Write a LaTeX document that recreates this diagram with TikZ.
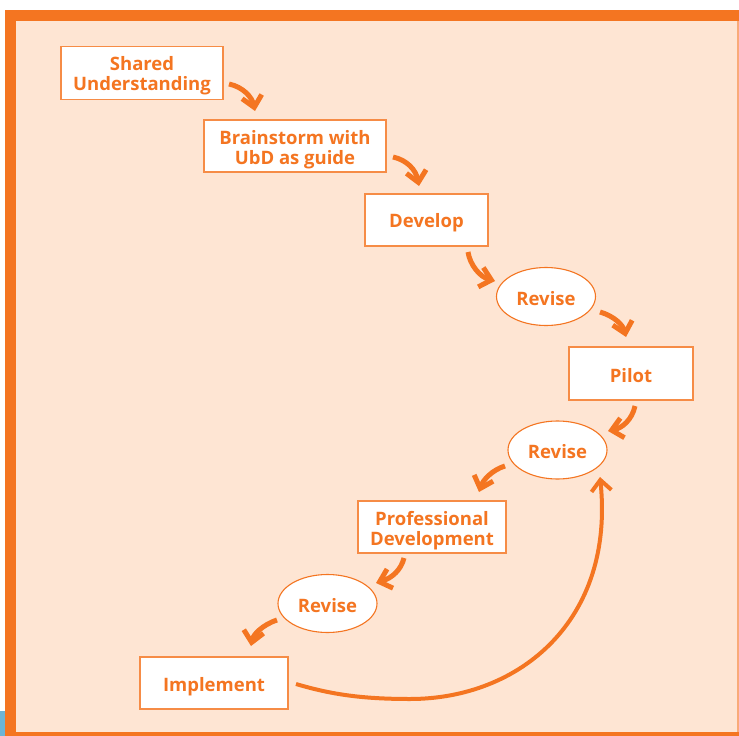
\documentclass[tikz,border=0pt]{standalone}
\usepackage{fontspec}
\setmainfont{Open Sans}
\usetikzlibrary{shapes.geometric,arrows.meta}
\definecolor{org}{RGB}{244,117,33}
\definecolor{bg}{RGB}{254,229,211}
\definecolor{boxline}{RGB}{246,140,70}
\definecolor{lightorg}{RGB}{249,170,120}
\definecolor{blu}{RGB}{108,180,214}
\tikzset{
  lbl/.style={text=org,font=\fontsize{18.5}{20}\selectfont\bfseries,align=center,inner sep=0pt},
  stepbox/.style={draw=boxline,line width=1.3pt,fill=white,rectangle,inner sep=0pt},
  oval/.style={draw=org,line width=1.1pt,fill=white,ellipse,inner sep=0pt,minimum width=99pt,minimum height=58pt},
  arr/.style={draw=org,line width=5pt,-{Straight Barb[length=11pt,width=20pt]}},
  longarr/.style={draw=org,line width=4pt,-{Straight Barb[length=11pt,width=20pt]}}
}
\begin{document}
\begin{tikzpicture}[x=1pt,y=-1pt]
\useasboundingbox (0,0) rectangle (739,736);
\fill[white] (0,0) rectangle (739,736);
\fill[org] (4.7,10) rectangle (739,736);
\fill[bg] (15.6,21) rectangle (739,731.7);
\draw[lightorg,line width=1.5pt] (738.2,21) -- (738.2,731.7);
\fill[blu] (0,710.7) rectangle (4.7,736);

\node[stepbox,minimum width=162pt,minimum height=52.6pt,label={[lbl,yshift=-3pt]center:Shared\\Understanding}] (sh) at (142,73) {};
\node[stepbox,minimum width=182pt,minimum height=52pt,label={[lbl,yshift=-3.5pt]center:Brainstorm with\\UbD as guide}] (br) at (295,146) {};
\node[stepbox,minimum width=123pt,minimum height=52pt,label={[lbl,yshift=-3pt]center:Develop}] (dv) at (426.5,220) {};
\node[oval,label={[lbl,yshift=-2pt]center:Revise}] (r1) at (546,296.5) {};
\node[stepbox,minimum width=124pt,minimum height=53pt,label={[lbl,yshift=-2pt]center:Pilot}] (pi) at (631,373.5) {};
\node[oval,label={[lbl,yshift=-2pt]center:Revise}] (r2) at (557.5,450) {};
\node[stepbox,minimum width=148pt,minimum height=52pt,label={[lbl,yshift=-3.5pt]center:Professional\\Development}] (pd) at (432,527) {};
\node[oval,label={[lbl,yshift=-2pt]center:Revise}] (r3) at (327.5,603.5) {};
\node[stepbox,minimum width=148pt,minimum height=52pt,label={[lbl,yshift=-4pt]center:Implement}] (im) at (214,683) {};

\draw[arr] ([shift={(87,11)}]sh.center) .. controls (243,87) and (252,97) .. ([shift={(-40,-35)}]br.center);
\draw[arr] ([shift={(98,11)}]br.center) .. controls (407,160) and (416,170) .. ([shift={(-7.5,-34)}]dv.center);
\draw[arr] ([shift={(41.5,32)}]dv.center) .. controls (470,265) and (480,277) .. ([shift={(-51,-15.5)}]r1.center);
\draw[arr] ([shift={(54,15.5)}]r1.center) .. controls (614,316) and (623,325) .. ([shift={(-5,-36.5)}]pi.center);
\draw[arr] ([shift={(4,32.5)}]pi.center) .. controls (632,420) and (622,428) .. ([shift={(50.5,-19)}]r2.center);
\draw[arr] ([shift={(-52.5,16)}]r2.center) .. controls (492,470) and (483,480) .. ([shift={(47,-35)}]pd.center);
\draw[arr] ([shift={(-28,31)}]pd.center) .. controls (401,570) and (392,578) .. ([shift={(48.5,-20.5)}]r3.center);
\draw[arr] ([shift={(-50.5,16.5)}]r3.center) .. controls (262,625) and (253,635) .. ([shift={(37,-37)}]im.center);
\draw[longarr] ([shift={(82,1)}]im.center) .. controls (330,694) and (360,699) .. (410,699)
   .. controls (520,699) and (615,620) .. ([shift={(42.5,27)}]r2.center);
\end{tikzpicture}
\end{document}
